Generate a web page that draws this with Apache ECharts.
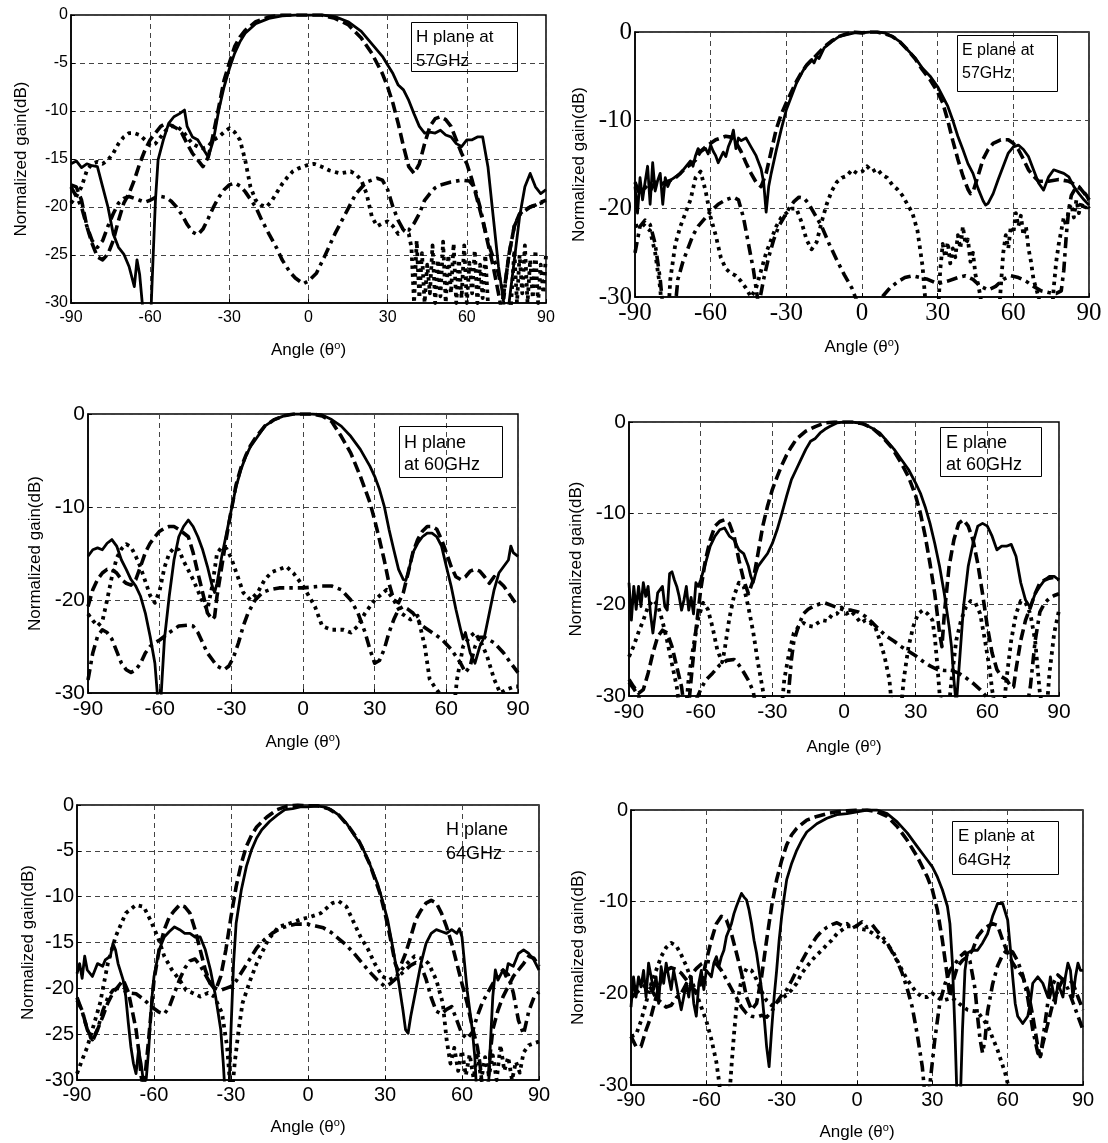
<!DOCTYPE html>
<html>
<head>
<meta charset="utf-8">
<script src="https://cdn.jsdelivr.net/npm/echarts@6/dist/echarts.min.js"></script>
<style>
  html, body { margin: 0; padding: 0; background: #fff; }
  #main { width: 1108px; height: 1143px; }
</style>
</head>
<body>
<div id="main"></div>
<script>
'use strict';

// angle ticks shared by all six panels
const angleTicks = [-90, -60, -30, 0, 30, 60, 90];
const panelNotes = [['H plane at', '57GHz'], ['E plane at', '57GHz'], ['H plane', 'at 60GHz'],
  ['E plane', 'at 60GHz'], ['H plane', '64GHz'], ['E plane at', '64GHz']];

// ---- H plane 57GHz ----
const h57Solid = [[-90,-15.5],[-88,-15.2],[-86,-15.9],[-84,-15.5],[-82,-15.7],[-80,-15.8],[-78,-17.9],[-76,-20],[-74,-22.8],[-72,-24.2],[-70,-24.9],[-68,-26.2],[-66,-28.3],[-65,-25.5],[-64,-27],[-63,-30],[-62,-33],[-60,-33],[-59,-26],[-58,-19.3],[-57,-15.1],[-55,-13],[-53,-11.3],[-51,-10.6],[-49,-10.3],[-47,-9.9],[-46,-11.6],[-44,-12.7],[-42,-13],[-40,-13.9],[-38,-14.8],[-36,-13],[-34,-9.9],[-32,-7.5],[-30,-5.6],[-28,-4],[-26,-2.8],[-24,-1.9],[-22,-1.4],[-20,-0.9],[-15,-0.35],[-10,-0.1],[-5,0],[0,0],[5,0],[10,-0.17],[15,-0.7],[20,-1.7],[24,-3],[28,-4.3],[30,-5.2],[32,-6.1],[34,-7.3],[36,-7.8],[38,-8.9],[40,-10.3],[42,-11.6],[44,-12.3],[46,-12.2],[48,-12.3],[50,-12],[52,-12.5],[54,-12.7],[56,-13.4],[58,-13.7],[60,-13],[62,-13],[64,-12.7],[66,-12.7],[68,-15.8],[70,-21],[72,-26.2],[74,-30],[75,-33],[76,-30],[78,-25.5],[80,-21],[82,-17.9],[84,-16.5],[86,-17.9],[88,-18.6],[90,-18.2]];
const h57Dashed = [[-90,-17.7],[-88,-17.9],[-86,-19.3],[-84,-22],[-82,-23.8],[-80,-25.2],[-78,-25.5],[-76,-24.9],[-74,-23.5],[-72,-21.4],[-70,-19.6],[-68,-18.6],[-66,-17.2],[-64,-15.5],[-62,-14.1],[-60,-13],[-58,-12.3],[-56,-11.6],[-54,-11.3],[-52,-11.5],[-50,-11.8],[-48,-12.3],[-46,-13.4],[-44,-14.4],[-42,-15.1],[-40,-15.8],[-38,-14.8],[-36,-12.3],[-34,-9.6],[-32,-6.8],[-30,-5],[-28,-3.3],[-26,-2.3],[-24,-1.6],[-20,-0.7],[-15,-0.2],[-10,0],[0,0],[5,0],[10,-0.35],[15,-1],[20,-2.4],[24,-4],[28,-6.1],[30,-7.5],[32,-9.2],[34,-11.3],[36,-13.7],[38,-15.8],[40,-16.5],[42,-15.5],[44,-13.4],[46,-11.6],[48,-10.8],[50,-10.6],[52,-10.9],[54,-11.6],[56,-13],[58,-14.4],[60,-15.5],[62,-17.2],[64,-19.3],[66,-21.4],[68,-23.8],[70,-26.2],[72,-29],[73,-30.5],[74,-29],[76,-24.9],[78,-22],[80,-20.7],[82,-20.3],[84,-20],[86,-19.8],[88,-19.5],[90,-19.3]];
const h57Dotted = [[-90,-19.6],[-88,-18.9],[-86,-17.9],[-84,-16.2],[-82,-15.5],[-80,-15.3],[-78,-15.5],[-76,-15.1],[-74,-14.4],[-72,-13.4],[-70,-12.7],[-68,-12.3],[-66,-12.3],[-64,-12.5],[-62,-13],[-60,-13.6],[-58,-13.4],[-56,-12.7],[-54,-12],[-52,-11.6],[-50,-11.6],[-48,-12],[-46,-12.7],[-44,-13.4],[-42,-13.7],[-40,-13.9],[-38,-13.7],[-36,-13],[-34,-12.7],[-32,-12.2],[-30,-11.8],[-28,-12.2],[-26,-13],[-24,-15.1],[-22,-17.9],[-20,-19.3],[-18,-19.8],[-16,-20],[-14,-19.4],[-12,-18.5],[-10,-17.6],[-8,-16.9],[-6,-16.3],[-4,-16],[-2,-15.8],[0,-15.6],[2,-15.5],[5,-15.8],[8,-16.2],[12,-16.5],[16,-16.3],[18,-16.6],[20,-17.2],[22,-18.6],[24,-21],[26,-22],[28,-21.7],[30,-21.5],[32,-22],[34,-22.8],[36,-22.4],[38,-22.8],[39,-24.2],[40,-30],[41,-23.5],[42,-29.5],[43,-24.8],[44,-30],[45,-26],[46,-29],[47,-24],[48,-30],[49,-25.5],[50,-29.3],[51,-23.6],[52,-30],[53,-25],[54,-29],[55,-23.8],[56,-30],[57,-25.5],[58,-29.5],[59,-24],[60,-30],[61,-25.8],[62,-29],[63,-24.5],[64,-30],[65,-26],[66,-29.5],[67,-25],[68,-30],[69,-33],[76,-33],[77,-29],[78,-24.5],[79,-30],[80,-25],[81,-29],[82,-24],[83,-30],[84,-25.5],[85,-29.5],[86,-24.5],[87,-30],[88,-26],[89,-29],[90,-25]];
const h57DashDot = [[-90,-17.9],[-88,-18.9],[-86,-20],[-84,-22],[-82,-23.5],[-80,-24.2],[-78,-23.5],[-76,-22],[-74,-20.7],[-72,-19.6],[-70,-19.1],[-68,-18.9],[-66,-19.1],[-64,-19.3],[-62,-19.5],[-60,-19.3],[-58,-19],[-56,-18.9],[-54,-19],[-52,-19.4],[-50,-20],[-48,-20.8],[-46,-21.8],[-44,-22.6],[-42,-22.9],[-40,-22.3],[-38,-21.2],[-36,-20],[-34,-19],[-32,-18.2],[-30,-17.7],[-28,-17.5],[-26,-17.8],[-24,-18.4],[-22,-19.2],[-20,-20],[-18,-21.2],[-15,-22.8],[-12,-24.3],[-10,-25.5],[-7,-26.8],[-5,-27.4],[-2,-28],[0,-27.7],[3,-26.9],[6,-25.2],[10,-22.8],[14,-20.7],[18,-18.6],[22,-17.4],[26,-17],[28,-17.2],[30,-18.2],[32,-20],[34,-21.4],[36,-22.4],[38,-22.4],[40,-21.7],[42,-20.7],[44,-19.3],[46,-18.6],[48,-18],[50,-17.7],[54,-17.4],[58,-17.2],[61,-17.3],[63,-18],[65,-20],[67,-22.5],[69,-24.5],[71,-26],[73,-28],[74,-29.5],[75,-27],[76,-24.9],[78,-22],[80,-20.8],[82,-20.4],[84,-20],[86,-19.8],[88,-19.6],[90,-19.4]];

// ---- E plane 57GHz ----
const e57Solid = [[-90,-17.5],[-89,-20.5],[-88,-16.5],[-87,-19],[-86,-17],[-85,-15.2],[-84,-19.5],[-83,-14.8],[-82,-18],[-81,-16.8],[-80,-16],[-79,-19.5],[-78,-16.5],[-77,-17.5],[-76,-16.8],[-74,-16.4],[-72,-16],[-70,-15.3],[-68,-14.6],[-67,-15.2],[-66,-14],[-65,-13.2],[-64,-13.6],[-62,-13.2],[-61,-13.8],[-60,-12.8],[-59,-13.5],[-58,-14],[-57,-14.8],[-56,-14.2],[-55,-13.6],[-54,-14.1],[-53,-13],[-52,-12.3],[-51,-11.1],[-50,-13.2],[-49,-12],[-48,-12.3],[-46,-12],[-45,-12.5],[-44,-13],[-42,-14],[-40,-15.5],[-39,-17],[-38,-20.4],[-37,-17.5],[-36,-16],[-34,-13.4],[-32,-11],[-30,-8.8],[-28,-7.3],[-26,-5.8],[-24,-4.7],[-22,-3.7],[-20,-3.1],[-19,-3.5],[-18,-2.8],[-17,-3],[-15,-1.8],[-12,-1.1],[-9,-0.5],[-6,-0.3],[-3,-0.1],[0,-0.1],[3,0],[6,0],[9,-0.1],[12,-0.5],[15,-1.1],[18,-2],[21,-2.9],[24,-4.1],[27,-5],[30,-6.2],[32,-7.3],[34,-8.4],[36,-10],[38,-11.8],[40,-13.3],[42,-14.9],[44,-16],[46,-17.7],[48,-19.1],[49,-19.6],[50,-19.4],[52,-18.3],[54,-16.7],[56,-15.2],[58,-13.7],[60,-13],[62,-12.8],[64,-13.3],[66,-14.1],[68,-15.6],[70,-17.1],[72,-17.9],[74,-16.4],[76,-15.6],[78,-15.8],[80,-16],[82,-16.4],[84,-17.5],[86,-18.3],[88,-19],[90,-19.6]];
const e57Dashed = [[-90,-17],[-88,-18.5],[-86,-17.5],[-84,-18],[-82,-17],[-80,-17.3],[-78,-17],[-76,-16.8],[-74,-16.5],[-72,-16],[-70,-15.4],[-68,-15],[-66,-14.5],[-64,-13.5],[-62,-13],[-60,-12.6],[-58,-12.2],[-56,-12],[-54,-11.8],[-52,-11.9],[-50,-12.5],[-48,-13.5],[-46,-14.8],[-44,-16],[-42,-17],[-40,-17.5],[-38,-16],[-36,-13.5],[-34,-11],[-32,-9.3],[-30,-8],[-28,-6.8],[-26,-5.6],[-24,-4.6],[-22,-3.8],[-20,-3.2],[-18,-2.6],[-15,-1.7],[-12,-1],[-9,-0.5],[-6,-0.2],[-3,0],[0,-0.1],[3,0],[6,0],[9,-0.2],[12,-0.5],[15,-1.1],[18,-2],[21,-3],[24,-4.3],[27,-5.4],[30,-6.8],[32,-8],[34,-10],[36,-12.3],[38,-14.4],[40,-16.3],[42,-17.8],[43,-18.3],[44,-18.1],[46,-16.3],[48,-14.4],[50,-13.3],[52,-12.6],[55,-12.2],[58,-12.2],[60,-12.6],[62,-13.3],[64,-14.4],[66,-15.6],[68,-16.3],[70,-16.9],[74,-16.9],[78,-16.7],[82,-16.9],[86,-17.5],[88,-18.2],[90,-19]];
const e57Dotted = [[-90,-22],[-87,-21.7],[-84,-22.5],[-82,-25],[-80,-29],[-79,-33],[-77,-33],[-76,-28],[-74,-24],[-72,-22],[-70,-20.5],[-68,-19],[-66,-16.5],[-64,-15.8],[-62,-18],[-60,-21],[-58,-23],[-56,-25.5],[-54,-26.8],[-52,-27.3],[-50,-27.6],[-48,-28.2],[-46,-29],[-44,-30],[-42,-29],[-40,-27],[-38,-25],[-36,-23.5],[-34,-22],[-32,-21],[-30,-20.5],[-28,-20],[-26,-20],[-24,-21.5],[-22,-23.5],[-20,-24.6],[-18,-23.8],[-16,-21.5],[-14,-19.5],[-12,-18],[-10,-17],[-8,-16.5],[-6,-16.3],[-4,-15.6],[-2,-16],[0,-15.8],[2,-15.2],[4,-15.8],[6,-15.5],[8,-16.2],[10,-16.5],[12,-17.3],[14,-17.8],[16,-18.5],[18,-19.5],[20,-20.5],[22,-22.5],[24,-26.5],[25,-30],[26,-33],[30,-33],[31,-27],[32,-24],[33,-25.5],[34,-23.8],[35,-26.2],[36,-24.5],[37,-25.5],[38,-23],[39,-24.5],[40,-22],[41,-24],[42,-23.5],[43,-26],[44,-25],[45,-27.5],[46,-28.5],[47,-30],[48,-33],[54,-33],[55,-29],[56,-25],[57,-23],[58,-24.5],[59,-22],[60,-22.8],[61,-20.5],[62,-22],[63,-20.8],[64,-23],[65,-22],[66,-24.5],[67,-26],[68,-28],[69,-29],[70,-30],[72,-33],[75,-33],[76,-29],[77,-26],[78,-24],[79,-22.5],[80,-21],[81,-22],[82,-20],[83,-19.5],[84,-21],[85,-19],[86,-20.5],[87,-19.2],[88,-20.2],[89,-19.5],[90,-20]];
const e57DashDot = [[-90,-25],[-88,-22],[-86,-21.3],[-84,-21.8],[-82,-24],[-80,-28],[-79,-31],[-76,-33],[-74,-31],[-73,-28],[-71,-26],[-69,-24.5],[-67,-23],[-65,-22],[-62,-21],[-60,-20.3],[-57,-19.5],[-54,-19],[-51,-18.7],[-49,-19],[-47,-21],[-45,-24],[-43,-27],[-42,-29],[-41,-31],[-39,-28],[-37,-25.5],[-35,-23.5],[-33,-22],[-31,-21],[-29,-20],[-27,-19.2],[-25,-18.7],[-23,-18.8],[-21,-19.5],[-19,-20.5],[-16,-22],[-13,-24],[-10,-25.8],[-7,-27.5],[-4,-29],[-2,-30.5],[0,-33],[6,-33],[8,-30],[11,-29],[14,-28.3],[17,-27.8],[20,-27.6],[23,-27.8],[26,-28],[30,-28.5],[34,-28.2],[38,-27.8],[41,-27.6],[44,-28],[47,-28.8],[50,-29.2],[53,-28.8],[56,-28],[59,-27.6],[62,-27.8],[65,-28.2],[68,-28.8],[71,-29.3],[74,-29.5],[77,-29.6],[79,-29.3],[80,-27],[81,-23],[82,-20],[83,-18.5],[85,-17.5],[87,-17.8],[89,-18.5],[90,-19]];

// ---- H plane 60GHz ----
const h60Solid = [[-90,-15.3],[-88,-14.6],[-86,-14.4],[-84,-14.6],[-82,-13.9],[-80,-13.5],[-78,-14.2],[-76,-15.7],[-74,-16.7],[-72,-17.8],[-70,-18.5],[-68,-19.6],[-66,-21.4],[-64,-23.9],[-62,-26.8],[-61,-30],[-60,-33],[-59,-28.5],[-58,-24.2],[-56,-19.6],[-54,-15.7],[-52,-13.2],[-50,-12.1],[-48,-11.4],[-46,-12.1],[-44,-13.2],[-42,-14.6],[-40,-16.4],[-38,-18.5],[-37,-19.2],[-36,-18.2],[-34,-15.3],[-32,-12.8],[-30,-10.3],[-28,-7.8],[-26,-6],[-24,-4.6],[-22,-3.5],[-20,-2.8],[-16,-1.3],[-12,-0.6],[-8,-0.2],[-4,0],[0,0],[4,0],[8,-0.1],[12,-0.6],[16,-1.3],[20,-2.4],[24,-3.8],[28,-5.6],[30,-6.7],[32,-8.1],[34,-9.9],[36,-12.4],[38,-14.6],[40,-16.7],[42,-17.8],[43,-17.9],[44,-17.1],[46,-14.9],[48,-13.9],[50,-13.2],[52,-12.8],[54,-12.8],[56,-13.2],[58,-14.2],[60,-16.4],[62,-18.5],[64,-21],[66,-23.2],[67,-24.2],[68,-23.5],[70,-25.7],[72,-26.8],[74,-25],[76,-23.9],[78,-21.4],[80,-18.9],[82,-17.1],[84,-16.4],[86,-15.7],[87,-14.2],[88,-14.9],[90,-15.3]];
const h60Dashed = [[-90,-20.7],[-88,-18.9],[-86,-17.8],[-84,-17.1],[-82,-16.7],[-80,-16.7],[-78,-17.1],[-76,-17.8],[-74,-18.2],[-72,-18.4],[-70,-17.8],[-68,-16.4],[-66,-14.9],[-64,-13.9],[-62,-13.2],[-60,-12.6],[-58,-12.3],[-56,-12.1],[-54,-12.1],[-52,-12.4],[-50,-12.8],[-48,-13.2],[-46,-14.9],[-44,-17.1],[-42,-19.2],[-40,-21.4],[-38,-22.1],[-37,-21.8],[-36,-19.6],[-34,-16.4],[-32,-13.2],[-30,-10.3],[-28,-7.6],[-26,-5.8],[-24,-4.5],[-22,-3.4],[-20,-2.6],[-16,-1.3],[-12,-0.6],[-8,-0.2],[-4,0],[0,0],[4,0],[8,-0.2],[12,-0.8],[16,-2.4],[20,-4.2],[24,-6.7],[26,-8.1],[28,-9.5],[30,-11.4],[32,-13.5],[34,-15.7],[36,-18.2],[38,-20],[40,-20.3],[42,-19.2],[44,-17.1],[46,-14.9],[48,-13.5],[50,-12.6],[52,-12.1],[54,-12.1],[56,-12.4],[58,-13.5],[60,-14.9],[62,-16.4],[64,-17.5],[66,-17.8],[68,-17.5],[70,-16.9],[72,-16.7],[74,-16.9],[76,-17.5],[78,-18.2],[80,-17.5],[84,-18.5],[87,-19.6],[90,-20.7]];
const h60Dotted = [[-90,-21.5],[-88,-22.2],[-86,-22.8],[-84,-22.3],[-82,-20],[-80,-17.5],[-78,-15.5],[-76,-14.5],[-74,-14],[-72,-14.3],[-70,-15.3],[-68,-16.5],[-66,-18],[-64,-19.5],[-62,-20.3],[-60,-19],[-58,-16.5],[-56,-15],[-54,-14.4],[-52,-14.6],[-50,-15.8],[-48,-16.8],[-46,-17.8],[-44,-19],[-42,-20.2],[-40,-21],[-38,-18.5],[-36,-15],[-34,-14.3],[-32,-14.5],[-30,-15.5],[-28,-17],[-25,-19.2],[-22,-20],[-19,-19.2],[-16,-17.8],[-13,-17],[-10,-16.7],[-7,-16.4],[-4,-17.1],[0,-18.5],[5,-20.7],[8,-22.8],[12,-23.2],[17,-23.2],[20,-23.5],[23,-22.8],[26,-21.4],[30,-20],[35,-18.9],[38,-20],[41,-21.4],[45,-22.1],[48,-21.7],[51,-25],[53,-28.5],[55,-29.3],[57,-30],[59,-32],[63,-32],[64.5,-28.5],[67,-25],[70,-23.9],[72,-23.5],[75,-24.8],[77,-26],[80,-28.5],[82.5,-30],[85.5,-29.6],[88.5,-29.3],[90,-29.3]];
const h60DashDot = [[-90,-28.6],[-88,-25.7],[-86,-23.9],[-84,-23.2],[-82,-23.5],[-80,-24.2],[-78,-25.5],[-76,-26.8],[-74,-27.5],[-72,-27.8],[-70,-27.5],[-68,-26.8],[-66,-25.7],[-64,-25],[-62,-24.6],[-60,-24.3],[-56,-23.5],[-52,-22.8],[-48,-22.7],[-46,-22.8],[-44,-23.5],[-42,-24.6],[-40,-25.7],[-38,-26.4],[-36,-27.1],[-33,-27.5],[-31,-27.1],[-29,-26.1],[-27,-24.6],[-25,-22.8],[-23,-21.4],[-20,-20],[-17,-19.2],[-14,-18.9],[-10,-18.7],[-6,-18.7],[-2,-18.7],[0,-18.7],[4,-18.6],[8,-18.5],[12,-18.5],[16,-18.9],[20,-20],[23,-21.4],[26,-23.5],[28,-25.3],[30,-26.8],[32,-26.5],[34,-25.3],[36,-23.5],[38,-22.1],[40,-21],[42,-20.7],[44,-21],[46,-21.4],[48,-22.1],[50,-22.8],[54,-23.5],[58,-24.2],[62,-25.3],[66,-26.8],[68,-27.8],[70,-27.1],[72,-25],[74,-24],[76,-24],[78,-24.3],[80,-24.6],[84,-25.7],[87,-26.8],[90,-27.8]];

// ---- E plane 60GHz ----
const e60Solid = [[-90,-17.6],[-89,-21.7],[-88,-18],[-87,-20.5],[-86,-18],[-85,-20.2],[-84,-17.6],[-83,-19.1],[-82,-18],[-81,-21],[-80,-23.1],[-79,-21],[-78,-18.7],[-76,-18],[-75,-20.2],[-74,-20.6],[-73,-16.6],[-72,-16.4],[-71,-17.3],[-70,-18],[-69,-19.1],[-68,-20.6],[-67,-19.5],[-66,-18],[-65,-20.6],[-64,-19.2],[-63,-21],[-62,-17.6],[-61,-18],[-60,-17.3],[-58,-15.5],[-56,-13.6],[-54,-12.5],[-52,-11.8],[-50,-11.6],[-48,-12.5],[-46,-12.9],[-44,-14],[-42,-14.4],[-40,-15.8],[-39,-16.9],[-38,-17.6],[-37,-16.6],[-36,-15.8],[-34,-15.1],[-32,-14.4],[-30,-13.3],[-28,-11.8],[-26,-10],[-24,-8.1],[-22,-6.3],[-20,-5.2],[-18,-4.1],[-16,-3],[-14,-2.1],[-12,-1.8],[-10,-1.2],[-8,-0.8],[-6,-0.5],[-3,-0.1],[0,0],[3,0],[6,-0.1],[9,-0.3],[12,-0.7],[15,-1.2],[18,-2.1],[21,-3],[24,-4.1],[27,-5.2],[30,-6.7],[32,-7.8],[34,-9.3],[36,-11.1],[38,-13.3],[40,-15.8],[42,-18.8],[44,-22.4],[45,-24.6],[46,-28.2],[47,-31],[48,-27.5],[49,-23.9],[50,-20.3],[52,-15.8],[54,-13.3],[56,-11.4],[58,-11.1],[60,-11.4],[62,-12.5],[64,-14],[66,-13.6],[68,-13.6],[70,-13.4],[72,-14.7],[74,-17.6],[76,-19.5],[78,-20.3],[80,-18.8],[82,-18],[84,-17.3],[86,-16.9],[88,-16.9],[90,-17.3]];
const e60Dashed = [[-90,-28.2],[-88,-29],[-86,-29.7],[-84,-29.3],[-82,-27.5],[-80,-25.3],[-78,-23.5],[-76,-22.8],[-74,-23.1],[-72,-24.6],[-70,-26.8],[-68,-29],[-67,-31],[-65,-31],[-64,-28.2],[-62,-22.8],[-60,-18.4],[-58,-15.1],[-56,-12.9],[-54,-11.4],[-52,-10.9],[-50,-10.7],[-48,-11.1],[-46,-12.5],[-44,-15.1],[-42,-17.3],[-40,-18.8],[-38,-17.3],[-36,-14.4],[-34,-11.4],[-32,-9.2],[-30,-7.4],[-28,-6],[-26,-4.7],[-24,-3.6],[-22,-2.7],[-20,-1.9],[-16,-1],[-12,-0.5],[-8,-0.1],[-4,0],[0,0],[4,0],[8,-0.2],[12,-0.7],[16,-1.6],[20,-2.8],[24,-4.5],[27,-6],[30,-8.1],[32,-10],[34,-12.5],[36,-15.5],[38,-18.8],[40,-23.1],[41,-24.6],[42,-21],[44,-15.8],[46,-12.9],[48,-11.1],[50,-10.7],[52,-11.4],[54,-12.9],[56,-15.5],[58,-18.8],[60,-22.4],[62,-25.3],[64,-27.1],[66,-27.9],[68,-28.2],[70,-29],[71,-29],[72,-27.1],[74,-23.9],[76,-21.7],[78,-20.3],[80,-18.8],[82,-17.6],[84,-17.3],[86,-17.1],[88,-17],[90,-17.3]];
const e60Dotted = [[-90,-25.7],[-88,-24.5],[-86,-23],[-84,-21.7],[-82,-20.2],[-80,-19.5],[-78,-20],[-76,-21.8],[-74,-24],[-72,-26.5],[-70,-29],[-69,-31],[-66,-31],[-65,-28],[-63,-24.5],[-61,-21.5],[-59,-19.8],[-57,-20.5],[-55,-22.5],[-53,-25],[-51,-26.3],[-50,-25],[-48,-21.5],[-46,-19],[-44,-17.6],[-42,-18],[-40,-20.3],[-38,-23],[-36,-26.4],[-34,-29.3],[-33,-31],[-26,-31],[-25,-28.2],[-23,-25.3],[-21,-23.1],[-19,-22.4],[-17,-22],[-15,-22.3],[-13,-22.4],[-11,-22],[-9,-21.7],[-7,-21.8],[-5,-21.1],[-3,-21],[-1,-20.3],[1,-21],[3,-20.7],[5,-21.3],[7,-22],[9,-21.7],[11,-22],[13,-22.4],[15,-23.9],[17,-25.7],[19,-28.2],[20,-31],[24,-31],[25,-28.2],[27,-24.6],[29,-22.4],[31,-21],[33,-20.6],[35,-21],[37,-21.7],[38,-23.5],[39,-26.4],[40,-29.7],[41,-31],[44,-31],[45,-28.2],[47,-23.9],[49,-21.7],[51,-20.3],[53,-19.6],[55,-19.8],[57,-21],[59,-23.9],[61,-27.1],[62,-29.3],[63,-31],[67,-31],[68,-28.2],[70,-23.9],[72,-21],[74,-19.6],[76,-19.8],[78,-21],[80,-23.9],[81,-26.8],[82,-29.7],[83,-31],[85,-31],[86,-27.5],[88,-23.1],[90,-20.6]];
const e60DashDot = [[-90,-28.5],[-88,-29.2],[-86,-30],[-84,-32],[-64,-32],[-62,-30.5],[-60,-29.3],[-58,-28.3],[-55,-27.5],[-52,-26.6],[-49,-26.1],[-46,-26],[-44,-26.6],[-42,-27.4],[-40,-28.3],[-38,-29.5],[-37,-31],[-36,-33],[-24,-33],[-23,-29],[-22,-26],[-21,-24],[-19,-22.3],[-17,-21],[-15,-20.5],[-13,-20.2],[-10,-19.9],[-8,-19.8],[-5,-20.1],[-2,-20.4],[0,-20.6],[3,-20.6],[6,-20.8],[9,-21.3],[12,-22],[15,-22.8],[18,-23.5],[21,-24],[24,-24.6],[27,-25.1],[30,-25.6],[33,-26.2],[36,-26.7],[39,-27.1],[42,-27.2],[45,-27.2],[48,-27.5],[51,-28],[54,-28.6],[57,-29.3],[60,-30.2],[62,-32],[76,-32],[78,-29],[80,-24],[82,-20.8],[84,-19.8],[86,-19.3],[88,-19],[90,-18.8]];

// ---- H plane 64GHz ----
const h64Solid = [[-90,-18.4],[-89,-17.3],[-88,-18.9],[-87,-16.5],[-86,-18],[-84,-18.7],[-82,-17.3],[-80,-17.6],[-79,-16.9],[-77,-16.5],[-76,-15.1],[-75,-15.8],[-74,-17.3],[-72,-19.1],[-71,-20.9],[-70,-23.8],[-69,-26.4],[-68,-28.2],[-67,-29.3],[-66,-26.7],[-65,-28.2],[-64,-30.5],[-63,-29.8],[-62,-26.4],[-61,-21.6],[-60,-18.7],[-58,-15.8],[-56,-14.4],[-54,-13.8],[-52,-13.3],[-50,-13.6],[-48,-14],[-46,-14],[-44,-14.4],[-42,-14.4],[-40,-15.8],[-38,-18],[-36,-20.9],[-34,-24.5],[-33,-28.2],[-32,-33],[-31,-33],[-30,-24.5],[-29,-17.3],[-28,-12.9],[-26,-9.3],[-24,-6.7],[-22,-4.9],[-20,-3.6],[-18,-2.7],[-15,-1.8],[-12,-1.1],[-9,-0.5],[-6,-0.4],[-3,-0.2],[0,-0.2],[3,-0.1],[6,-0.2],[9,-0.5],[12,-1.1],[15,-2],[18,-3.3],[21,-4.5],[24,-6.4],[27,-8.5],[29,-10.4],[31,-12.5],[33,-15.5],[35,-18.7],[37,-22.4],[38,-24.5],[39,-24.9],[40,-23.1],[42,-20.2],[44,-17.3],[46,-15.1],[48,-14],[50,-13.6],[52,-13.8],[54,-14],[56,-13.6],[58,-14],[59,-13.5],[60,-14.4],[61,-17.3],[62,-20.2],[64,-24.5],[65,-27.5],[66,-33],[70,-33],[71,-26.4],[72,-20.9],[73,-18],[74,-19.1],[76,-18],[77,-18.7],[78,-17.3],[80,-17.6],[82,-16.2],[84,-15.8],[86,-16.2],[88,-16.9],[90,-18]];
const h64Dashed = [[-90,-21.3],[-88,-22.4],[-86,-24.5],[-84,-25.6],[-82,-24.5],[-80,-23.1],[-78,-21.6],[-76,-20.5],[-74,-19.8],[-72,-19.1],[-70,-20.4],[-68,-23.1],[-67,-24.5],[-66,-26.7],[-65,-29.6],[-64,-31],[-63,-28.2],[-62,-25.3],[-60,-19.1],[-58,-15.8],[-56,-13.6],[-54,-12.2],[-52,-11.5],[-50,-10.9],[-48,-11.1],[-46,-11.8],[-44,-13.6],[-42,-15.8],[-40,-18],[-38,-19.5],[-36,-20.2],[-34,-18.7],[-32,-15.8],[-30,-12.2],[-28,-8.9],[-26,-6.4],[-24,-4.5],[-22,-3.3],[-20,-2.4],[-16,-1.3],[-12,-0.5],[-8,-0.1],[-4,0],[0,-0.1],[4,-0.1],[8,-0.4],[12,-1.1],[16,-2.4],[20,-4],[24,-6.4],[28,-9.6],[30,-11.8],[32,-14.4],[34,-17.3],[35,-18],[36,-17.6],[38,-16.2],[40,-14.4],[42,-12.5],[44,-11.5],[46,-10.7],[48,-10.4],[50,-10.7],[52,-11.8],[54,-13.3],[56,-15.1],[58,-17.3],[60,-19.5],[62,-21.6],[64,-24.2],[66,-26.4],[67,-28.2],[68,-31],[70,-31],[71,-27.1],[72,-24.5],[74,-22.4],[76,-20.9],[78,-19.8],[80,-18.7],[82,-18],[84,-17.3],[86,-16.5],[88,-16.7],[90,-17.6]];
const h64Dotted = [[-90,-29.3],[-88,-27.8],[-86,-26.4],[-84,-24.5],[-81,-21.6],[-78,-17.3],[-75,-14.4],[-71,-11.8],[-67,-10.9],[-64,-11.1],[-61.5,-12.5],[-58.5,-14.4],[-56,-16.5],[-53,-18],[-50,-19.1],[-47.5,-20.2],[-45,-20.5],[-42,-20.9],[-39,-20.5],[-36.5,-20.9],[-33.5,-22.7],[-31.5,-26.4],[-30.5,-30],[-29.5,-31],[-28.5,-28],[-27,-24.5],[-25.5,-21.6],[-22.5,-19.1],[-20,-17.3],[-15.5,-14.7],[-11.5,-13.3],[-7,-12.9],[-3,-12.5],[1,-12.2],[5,-11.8],[9.5,-10.7],[12,-10.5],[15,-11.1],[18,-12.9],[20.5,-14.4],[23.5,-15.8],[26,-17.3],[29,-18.7],[31.5,-19.1],[34.5,-18.7],[37.5,-17.6],[41.5,-16.5],[45,-16.8],[47,-17.3],[50,-19.1],[52.5,-21.6],[54,-25.6],[55.5,-28.2],[57,-26.5],[58.5,-29],[60,-26.8],[61.5,-29.5],[63,-27.2],[64.5,-29.8],[66,-27],[67.5,-30],[69,-27.5],[70.5,-29.5],[72,-27.3],[73.5,-30],[75,-26.2],[76.5,-29],[78,-27.5],[79.5,-30],[81,-28],[82.5,-29.2],[84,-27],[86,-26.2],[88,-26],[90,-25.8]];
const h64DashDot = [[-90,-21],[-88,-22.5],[-86,-24.5],[-84,-25.8],[-82,-24.5],[-80,-22.5],[-78,-21],[-76,-20.2],[-74,-20],[-72,-20.2],[-70,-20.5],[-67,-20.6],[-64,-21.2],[-61,-22],[-58,-22.6],[-56,-22.8],[-54,-22],[-52,-20.5],[-50,-19],[-48,-17.8],[-46,-17],[-44,-16.8],[-42,-17.5],[-40,-18.5],[-38,-19.5],[-36,-20],[-34,-20.2],[-32,-20],[-30,-19.8],[-28,-19.2],[-26,-18.3],[-24,-17.4],[-22,-16.5],[-20,-15.6],[-17,-14.7],[-14,-14],[-11,-13.5],[-8,-13.2],[-5,-13],[-2,-13],[0,-13],[3,-13.2],[6,-13.4],[9,-13.9],[12,-14.6],[15,-15.3],[18,-16.2],[21,-17.2],[24,-18.2],[27,-19.1],[30,-19.8],[32,-19.5],[34,-19],[36,-18.5],[38,-18],[40,-17.5],[42,-17.2],[44,-17.5],[46,-19],[48,-21],[50,-22.5],[52,-22.8],[54,-22.3],[56,-22],[58,-23.5],[60,-25],[62,-25.5],[64,-24.8],[66,-23],[68,-21.5],[70,-20.5],[72,-19.5],[74,-18.5],[76,-18],[78,-18.5],[80,-20.5],[82,-23.5],[84,-25],[86,-22.5],[88,-21],[90,-20.4]];

// ---- E plane 64GHz ----
const e64Solid = [[-90,-21.5],[-89,-18.2],[-88,-20.4],[-87,-18.2],[-86,-19.3],[-85,-17.5],[-84,-20.4],[-83,-16.7],[-82,-18.2],[-81,-19.6],[-80,-18.2],[-79,-21.1],[-78,-17.1],[-77,-18.9],[-76,-16.7],[-75,-18.2],[-74,-19.6],[-73,-17.5],[-72,-18.9],[-71,-20.4],[-70,-21.8],[-69,-20.4],[-68,-18.9],[-67,-20.4],[-66,-18.2],[-65,-21.1],[-64,-22.5],[-63,-18.9],[-62,-17.5],[-61,-19.6],[-60,-17.5],[-58,-18.2],[-57,-16.7],[-56,-16],[-55,-17.1],[-54,-16],[-53,-15.3],[-52,-13.8],[-50,-12.4],[-49,-11.3],[-48,-10.5],[-47,-9.8],[-46,-9.1],[-45,-9.5],[-44,-9.8],[-43,-10.9],[-42,-12.4],[-41,-14.2],[-40,-15.6],[-39,-17.5],[-38,-19.6],[-37,-22.5],[-36,-25.8],[-35,-28],[-34,-24],[-33,-20.4],[-32,-17.5],[-31,-14.2],[-30,-11.6],[-29,-9.5],[-28,-7.6],[-26,-5.8],[-24,-4.4],[-22,-3.3],[-20,-2.4],[-16,-1.5],[-12,-0.9],[-8,-0.5],[-4,-0.4],[0,-0.2],[4,0],[8,0],[12,-0.4],[16,-1.3],[20,-2.5],[24,-4],[27,-5.1],[30,-6.2],[32,-7.3],[34,-8.7],[36,-10.5],[37,-12.4],[38,-16.7],[39,-24],[40,-33],[41,-33],[42,-24],[43,-17.5],[44,-15.6],[46,-15.3],[48,-15.3],[50,-14.5],[52,-13.5],[54,-11.6],[56,-10.2],[58,-10.2],[60,-12],[61,-14.9],[62,-18.2],[63,-21.1],[64,-22.5],[66,-23.3],[68,-22.5],[69,-21.1],[70,-18.9],[72,-18.2],[74,-18.9],[76,-20.4],[77,-18.2],[78,-19.6],[79,-21.1],[80,-18.9],[82,-20.4],[83,-18.2],[84,-16.7],[85,-17.5],[86,-20.4],[87,-18.2],[88,-16.7],[89,-17.5],[90,-17.5]];
const e64Dashed = [[-90,-24.7],[-88,-25.8],[-86,-25.8],[-84,-24],[-82,-22.5],[-80,-20.4],[-78,-18.5],[-76,-17.5],[-74,-17.2],[-72,-17.4],[-70,-17.8],[-68,-18.5],[-66,-19.3],[-64,-19.8],[-62,-18.9],[-60,-16.4],[-58,-14.2],[-56,-12.4],[-54,-11.6],[-52,-12],[-50,-13.5],[-48,-15.6],[-46,-17.8],[-44,-20.4],[-42,-21.8],[-40,-21.1],[-38,-18.2],[-36,-14.2],[-34,-10.5],[-32,-7.6],[-30,-5.5],[-28,-3.8],[-26,-2.7],[-24,-2],[-20,-1.1],[-16,-0.7],[-12,-0.4],[-8,-0.2],[-4,-0.1],[0,0],[4,0],[8,-0.2],[12,-0.7],[16,-1.8],[20,-3.3],[24,-5.1],[28,-7.3],[30,-8.7],[32,-10.9],[34,-14.2],[36,-18.2],[37,-20.4],[38,-18.9],[40,-17.1],[42,-16.4],[44,-16],[46,-15.3],[48,-13.8],[50,-13.1],[52,-12.7],[54,-12.4],[56,-12.6],[58,-14.2],[60,-15.6],[62,-16.7],[64,-17.5],[66,-18.2],[68,-19.6],[70,-22.5],[72,-25.8],[73,-26.9],[74,-25.5],[76,-23.3],[78,-21.1],[80,-19.6],[82,-18.5],[84,-18.4],[86,-18.9],[88,-20.4],[90,-21.8]];
const e64Dotted = [[-90,-24.7],[-88,-24.5],[-86,-23],[-84,-21],[-82,-19],[-80,-17.5],[-78,-16],[-76,-15],[-74,-14.5],[-72,-14.8],[-70,-15.8],[-68,-17],[-66,-18.5],[-64,-20],[-62,-21.5],[-60,-23],[-58,-25],[-56,-27.5],[-55,-29.5],[-54,-32],[-51,-32],[-50,-28],[-49,-24.5],[-48,-21.5],[-46,-18.5],[-44,-17.3],[-42,-17.5],[-40,-18.5],[-38,-19.8],[-36,-20.8],[-34,-21.3],[-32,-21],[-30,-20.5],[-28,-20.2],[-26,-19.6],[-24,-18.9],[-22,-17.8],[-20,-17.1],[-18,-16.4],[-16,-15.8],[-14,-15.3],[-12,-14.7],[-10,-14.2],[-8,-13.5],[-6,-13.1],[-4,-12.7],[-2,-12.7],[0,-12.7],[2,-13],[4,-13.1],[6,-13.4],[8,-13.8],[10,-14.2],[12,-14.7],[14,-15.3],[16,-16.4],[18,-17.5],[20,-18.5],[22,-19.3],[24,-20],[26,-20.4],[28,-20.4],[30,-20],[34,-20.8],[38,-20.5],[41,-21.2],[44,-21.8],[48,-22],[52,-23.5],[56,-26.2],[59,-28.7],[60,-29.8],[61,-32],[90,-32]];
const e64DashDot = [[-90,-20.5],[-88,-20],[-86,-19.5],[-84,-19],[-82,-19.5],[-80,-20.5],[-78,-21],[-76,-21.5],[-74,-21.3],[-72,-20.5],[-70,-20],[-68,-19],[-66,-18],[-64,-17.3],[-62,-16.8],[-60,-16.5],[-58,-16.6],[-56,-16.8],[-54,-17.5],[-52,-18.5],[-50,-19.5],[-48,-20.5],[-46,-21.5],[-44,-22.2],[-42,-22.5],[-40,-22.6],[-38,-22.4],[-36,-22.6],[-34,-22],[-32,-21],[-30,-20.2],[-28,-19.6],[-26,-18.6],[-24,-17.5],[-22,-16.5],[-20,-15.5],[-18,-14.6],[-16,-13.8],[-14,-13.2],[-12,-12.8],[-10,-12.5],[-8,-12.3],[-6,-12.6],[-4,-12.4],[-2,-12.9],[0,-12.6],[2,-12.2],[4,-12.8],[6,-12.5],[8,-13.2],[10,-13.8],[12,-14.5],[14,-15.5],[16,-16.5],[18,-17.8],[20,-19.5],[22,-21.5],[24,-24.5],[26,-28],[27,-31],[28,-32],[29,-30],[31,-25],[33,-21],[35,-19],[37,-17.5],[39,-16.8],[41,-16],[43,-15.5],[45,-16.5],[47,-19.5],[48,-22.5],[49,-25],[50,-26.5],[51,-25],[52,-22],[54,-19],[56,-17],[58,-15.8],[60,-15.2],[62,-15.5],[64,-16.5],[66,-18],[68,-20.5],[70,-24],[72,-26.5],[73,-27],[74,-25],[76,-21],[78,-19],[80,-18],[82,-18.5],[84,-19.5],[86,-21],[88,-22.5],[90,-24]];

const panelData = [
  [h57Solid, h57Dashed, h57Dotted, h57DashDot],
  [e57Solid, e57Dashed, e57Dotted, e57DashDot],
  [h60Solid, h60Dashed, h60Dotted, h60DashDot],
  [e60Solid, e60Dashed, e60Dotted, e60DashDot],
  [h64Solid, h64Dashed, h64Dotted, h64DashDot],
  [e64Solid, e64Dashed, e64Dotted, e64DashDot]
];

// panel boxes in px
const panels = [
  {l: 71, t: 15, w: 475, h: 288, step: 5, fs: 16, ff: 'Liberation Sans', lm: 7, yGap: 41, xGap: 37,
    note: {x: 411, y: 22, w: 106, h: 49, fs: 17, lh: 24, dx: 5, dy: 3}},
  {l: 635, t: 32, w: 454, h: 265, step: 10, fs: 25, ff: 'Liberation Serif', lm: 4, yGap: 47, xGap: 40,
    note: {x: 957, y: 35, w: 100, h: 56, fs: 16, lh: 23, dx: 5, dy: 4}},
  {l: 88, t: 414, w: 430, h: 279, step: 10, fs: 21, ff: 'Liberation Sans', lm: 6, yGap: 44, xGap: 39,
    note: {x: 399, y: 426, w: 103, h: 51, fs: 18, lh: 22, dx: 5, dy: 6}},
  {l: 629, t: 422, w: 430, h: 274, step: 10, fs: 21, ff: 'Liberation Sans', lm: 6, yGap: 44, xGap: 41,
    note: {x: 940, y: 427, w: 101, h: 49, fs: 18, lh: 22, dx: 6, dy: 5}},
  {l: 77, t: 805, w: 462, h: 275, step: 5, fs: 20, ff: 'Liberation Sans', lm: 5, yGap: 40, xGap: 37,
    note: {x: 441, y: 818, w: 0, h: 46, fs: 18, lh: 24, dx: 5, dy: 0}},
  {l: 631, t: 810, w: 452, h: 275, step: 10, fs: 20, ff: 'Liberation Sans', lm: 5, yGap: 44, xGap: 37,
    note: {x: 952, y: 821, w: 106, h: 53, fs: 17, lh: 24, dx: 6, dy: 3}}
];

const lineStyles = [
  {type: 'solid', width: 2.8},
  {type: [11, 5], width: 3.6},
  {type: [3.5, 4.5], width: 3.8},
  {type: [11, 5, 3.5, 5], width: 3.6}
];

const grid = [], xAxis = [], yAxis = [], series = [], graphic = [];
const gridLine = {show: true, lineStyle: {color: '#444', width: 1, type: [5, 4]}};

panels.forEach((p, i) => {
  grid.push({left: p.l, top: p.t, width: p.w, height: p.h, show: true,
    borderColor: '#000', borderWidth: 1.5, backgroundColor: 'transparent'});
  xAxis.push({
    type: 'value', gridIndex: i, min: -90, max: 90, interval: 30,
    axisLine: {show: true, onZero: false, lineStyle: {color: '#000', width: 1.5}},
    axisTick: {show: true, inside: true, length: 4, lineStyle: {color: '#000'}},
    axisLabel: {color: '#000', fontSize: p.fs, fontFamily: p.ff, margin: p.lm,
      customValues: angleTicks, hideOverlap: false},
    splitLine: gridLine,
    name: '{n|Angle (θ}{sup|o}{n|)}', nameLocation: 'middle', nameGap: p.xGap,
    nameTextStyle: {color: '#000', fontSize: 17, fontFamily: 'Liberation Sans',
      rich: {
        n: {fontSize: 17, fontFamily: 'Liberation Sans', color: '#000', verticalAlign: 'bottom'},
        sup: {fontSize: 11, fontFamily: 'Liberation Sans', color: '#000', verticalAlign: 'bottom', padding: [0, 0, 8, 0]}
      }}
  });
  yAxis.push({
    type: 'value', gridIndex: i, min: -30, max: 0, interval: p.step,
    axisLine: {show: true, onZero: false, lineStyle: {color: '#000', width: 1.5}},
    axisTick: {show: true, inside: true, length: 4, lineStyle: {color: '#000'}},
    axisLabel: {color: '#000', fontSize: p.fs, fontFamily: p.ff, margin: 3, hideOverlap: false},
    splitLine: gridLine,
    name: 'Normalized gain(dB)', nameLocation: 'middle', nameGap: p.yGap,
    nameTextStyle: {color: '#000', fontSize: 17, fontFamily: 'Liberation Sans'}
  });
  panelData[i].forEach((d, k) => {
    series.push({
      type: 'line', xAxisIndex: i, yAxisIndex: i, data: d,
      showSymbol: false, symbol: 'none', clip: true, animation: false,
      lineStyle: Object.assign({color: '#000', cap: 'butt', join: 'round'}, lineStyles[k]),
      z: 5 - k
    });
  });
  const n = p.note;
  if (n.w > 0) {
    graphic.push({type: 'rect', left: n.x, top: n.y, z: 20,
      shape: {width: n.w, height: n.h},
      style: {fill: 'transparent', stroke: '#000', lineWidth: 1}});
  }
  graphic.push({type: 'text', left: n.x + n.dx, top: n.y + n.dy, z: 21,
    style: {text: panelNotes[i].join('\n'), fontSize: n.fs, lineHeight: n.lh,
      fontFamily: 'Liberation Sans', fill: '#000'}});
});

const chart = echarts.init(document.getElementById('main'), null, {renderer: 'canvas'});
chart.setOption({
  animation: false,
  backgroundColor: '#fff',
  grid, xAxis, yAxis, series, graphic
});
</script>
</body>
</html>
